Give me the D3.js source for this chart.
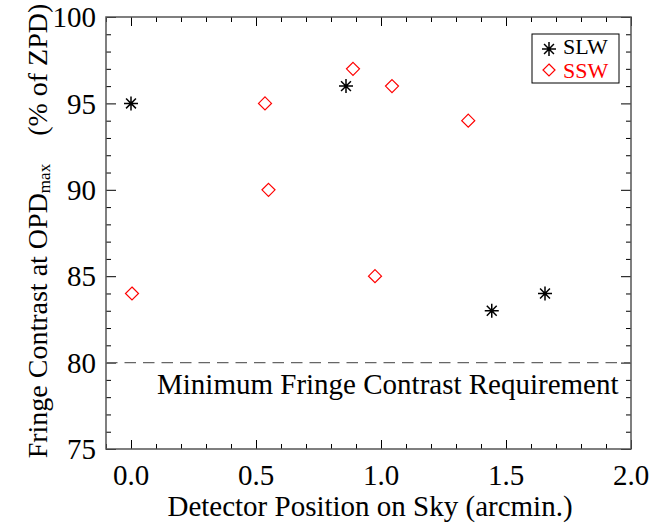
<!DOCTYPE html>
<html>
<head>
<meta charset="utf-8">
<script src="https://cdn.jsdelivr.net/npm/d3@7"></script>
<style>
  html, body { margin: 0; padding: 0; background: #fff; }
  svg { display: block; }
  text { font-family: "Liberation Serif", "Times New Roman", serif; fill: #000; }
</style>
</head>
<body>
<svg id="chart" width="649" height="523"></svg>
<script>
// Fringe contrast per detector, long-wave (SLW) and short-wave (SSW) arrays
const slwPosition = [0.0, 0.86, 1.443, 1.656];
const slwContrast = [95, 96, 83, 84];
const sswPosition = [0.004, 0.536, 0.55, 0.888, 0.976, 1.044, 1.349];
const sswContrast = [84, 95, 90, 97, 85, 96, 94];

const xMajorTicks = [0.0, 0.5, 1.0, 1.5, 2.0];
const xTickLabels = ["0.0", "0.5", "1.0", "1.5", "2.0"];
const yMajorTicks = [75, 80, 85, 90, 95, 100];
const yTickLabels = ["75", "80", "85", "90", "95", "100"];
const requirementLevel = 80;
const requirementText = "Minimum Fringe Contrast Requirement";
const seriesNames = ["SLW", "SSW"];

const svg = d3.select("#chart");
const plotLeft = 106, plotRight = 631, plotTop = 17, plotBottom = 449;
const fontSize = 29;

const x = d3.scaleLinear().domain([-0.1, 2.0]).range([plotLeft, plotRight]);
const y = d3.scaleLinear().domain([75, 100]).range([plotBottom, plotTop]);

const xMinor = d3.range(-0.1, 2.0001, 0.1).map(v => +v.toFixed(2)).filter(v => !xMajorTicks.includes(v));
const yMinor = d3.range(75, 100.001, 1).filter(v => !yMajorTicks.includes(v));

// Inward ticks on all four sides
function drawAxis(axisGen, transform, values, len) {
  const g = svg.append("g").attr("transform", transform)
    .call(axisGen.tickValues(values).tickSize(-len).tickSizeOuter(0).tickFormat(""));
  g.select(".domain").remove();
  g.selectAll(".tick line").attr("stroke", "#000").attr("stroke-width", 1);
  return g;
}
drawAxis(d3.axisBottom(x), `translate(0,${plotBottom})`, xMajorTicks, 9);
drawAxis(d3.axisBottom(x), `translate(0,${plotBottom})`, xMinor, 5);
drawAxis(d3.axisTop(x), `translate(0,${plotTop})`, xMajorTicks, 9);
drawAxis(d3.axisTop(x), `translate(0,${plotTop})`, xMinor, 5);
drawAxis(d3.axisLeft(y), `translate(${plotLeft},0)`, yMajorTicks, 10);
drawAxis(d3.axisLeft(y), `translate(${plotLeft},0)`, yMinor, 5);
drawAxis(d3.axisRight(y), `translate(${plotRight},0)`, yMajorTicks, 10);
drawAxis(d3.axisRight(y), `translate(${plotRight},0)`, yMinor, 5);

// Plot frame
svg.append("rect")
  .attr("x", plotLeft).attr("y", plotTop)
  .attr("width", plotRight - plotLeft).attr("height", plotBottom - plotTop)
  .attr("fill", "none").attr("stroke", "#555").attr("stroke-width", 1.5);

// Tick labels
svg.append("g").selectAll("text").data(xMajorTicks).join("text")
  .attr("x", d => x(d)).attr("y", 485)
  .attr("text-anchor", "middle").attr("font-size", fontSize)
  .text((d, i) => xTickLabels[i]);

svg.append("g").selectAll("text").data(yMajorTicks).join("text")
  .attr("x", 96).attr("y", d => y(d)).attr("dy", "0.35em")
  .attr("text-anchor", "end").attr("font-size", fontSize)
  .text((d, i) => yTickLabels[i]);

// Axis titles
svg.append("text")
  .attr("x", 370).attr("y", 516)
  .attr("text-anchor", "middle").attr("font-size", fontSize)
  .text("Detector Position on Sky (arcmin.)");

const yTitle = svg.append("text")
  .attr("transform", `translate(47,231) rotate(-90)`)
  .attr("text-anchor", "middle").attr("font-size", 28);
yTitle.append("tspan").text("Fringe Contrast at OPD");
yTitle.append("tspan").attr("font-size", 17).attr("dy", 3).text("max");
yTitle.append("tspan").attr("dy", -3).text("\u2003(% of ZPD)");

// Requirement line
svg.append("line")
  .attr("x1", plotLeft).attr("x2", plotRight)
  .attr("y1", y(requirementLevel)).attr("y2", y(requirementLevel))
  .attr("stroke", "#666").attr("stroke-width", 1.3)
  .attr("stroke-dasharray", "11.5,7");
svg.append("text")
  .attr("x", 157).attr("y", 394).attr("font-size", fontSize)
  .text(requirementText);

// Marker shapes
function asterisk(r) {
  const p = d3.path();
  for (let k = 0; k < 4; k++) {
    const a = k * Math.PI / 4;
    p.moveTo(-r * Math.cos(a), -r * Math.sin(a));
    p.lineTo(r * Math.cos(a), r * Math.sin(a));
  }
  return p.toString();
}
function diamond(r) {
  const p = d3.path();
  p.moveTo(0, -r); p.lineTo(r, 0); p.lineTo(0, r); p.lineTo(-r, 0); p.closePath();
  return p.toString();
}

svg.append("g").selectAll("path").data(slwPosition).join("path")
  .attr("transform", (d, i) => `translate(${x(d)},${y(slwContrast[i])})`)
  .attr("d", asterisk(7)).attr("stroke", "#000").attr("stroke-width", 1.5).attr("fill", "none");

svg.append("g").selectAll("path").data(sswPosition).join("path")
  .attr("transform", (d, i) => `translate(${x(d)},${y(sswContrast[i])})`)
  .attr("d", diamond(6.5)).attr("stroke", "#f00").attr("stroke-width", 1.2).attr("fill", "none");

// Legend
const legend = svg.append("g");
legend.append("rect").attr("x", 532).attr("y", 34).attr("width", 87).attr("height", 49)
  .attr("fill", "#fff").attr("stroke", "#000").attr("stroke-width", 1);
legend.append("path").attr("transform", "translate(549,49)")
  .attr("d", asterisk(7)).attr("stroke", "#000").attr("stroke-width", 1.5).attr("fill", "none");
legend.append("path").attr("transform", "translate(549,70)")
  .attr("d", diamond(6)).attr("stroke", "#f00").attr("stroke-width", 1.2).attr("fill", "none");
legend.append("text").attr("x", 563).attr("y", 54).attr("font-size", 22).text(seriesNames[0]);
legend.append("text").attr("x", 563).attr("y", 77.5).attr("font-size", 22)
  .style("fill", "#f00").text(seriesNames[1]);
</script>
</body>
</html>
